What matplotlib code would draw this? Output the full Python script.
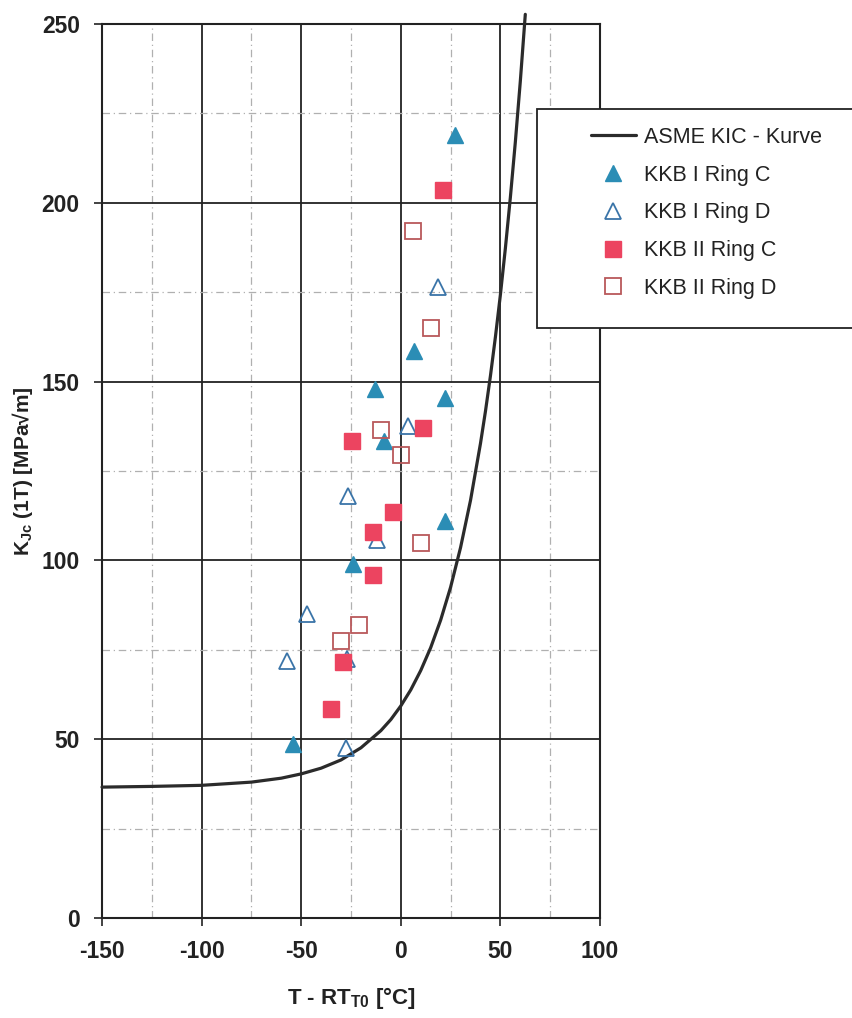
import matplotlib
matplotlib.use("Agg")
import matplotlib.pyplot as plt
from matplotlib.patches import Rectangle

plt.rcParams['font.family'] = ['Liberation Sans', 'DejaVu Sans']
plt.rcParams['mathtext.default'] = 'regular'
plt.rcParams['axes.unicode_minus'] = False

# ASME KIC reference curve
asme_x = [-150, -125, -100, -75, -60, -50, -40, -30, -20, -10, -5, 0, 5, 10, 15, 20, 25,
          30, 35, 40, 42.5, 45, 47.5, 50, 52.5, 55, 57.5, 60, 62.5]
asme_y = [36.6, 36.8, 37.1, 38.0, 39.1, 40.3, 41.9, 44.2, 47.6, 52.4, 55.5, 59.3, 63.8, 69.2,
          75.6, 83.3, 92.5, 103.6, 116.8, 132.7, 141.7, 151.6, 162.5, 174.3, 187.3, 201.5,
          217.0, 234.0, 252.7]

kkb1c_x = [27, -54, -24, -13, -8.5, 6.5, 22, 22]
kkb1c_y = [219, 48.6, 99, 148, 133.5, 158.5, 145.5, 111]

kkb1d_x = [18.5, 3.5, -26.5, -12, -47, -57, -27, -27.5]
kkb1d_y = [176.5, 137.5, 118, 105.8, 85, 72, 72.5, 47.5]

kkb2c_x = [21, -24.5, 11, -4, -14, -14, -29, -35]
kkb2c_y = [203.5, 133.5, 137, 113.5, 108, 96, 71.5, 58.5]

kkb2d_x = [6, 15, -10, 0, 10, -21, -30]
kkb2d_y = [192, 165, 136.5, 129.5, 105, 82, 77.5]

x_ticks = [-150, -100, -50, 0, 50, 100]
y_ticks = [0, 50, 100, 150, 200, 250]
x_minor = [-125, -75, -25, 25, 75]
y_minor = [25, 75, 125, 175, 225]

W, H = 852, 1018
fig = plt.figure(figsize=(W / 100, H / 100), dpi=100)
ax = fig.add_axes([102 / W, 1 - 918 / H, (600 - 102) / W, (918 - 24) / H])

ax.set_xlim(-150, 100)
ax.set_ylim(0, 250)
ax.set_xticks(x_ticks)
ax.set_yticks(y_ticks)
ax.set_xticks(x_minor, minor=True)
ax.set_yticks(y_minor, minor=True)
ax.grid(True, which='major', color='#222222', lw=1.3, zorder=1)
ax.grid(True, which='minor', color='#b0b0b0', lw=0.9, ls=(0, (6, 3, 1, 3)), zorder=1)
ax.tick_params(which='major', direction='out', length=6, width=1.2, pad=10,
               labelsize=16.5, colors='#222222')
ax.tick_params(which='minor', length=0)
for lab in ax.get_xticklabels() + ax.get_yticklabels():
    lab.set_fontweight('bold')
for s in ax.spines.values():
    s.set_color('#222222')
    s.set_linewidth(1.5)

ax.plot(asme_x, asme_y, color='#2b2b2b', lw=2.3, zorder=3, clip_on=False,
        label='ASME KIC - Kurve', solid_capstyle='round')
ax.plot(kkb1c_x, kkb1c_y, ls='none', marker='^', ms=12, color='#2b8db5',
        mec='#2b8db5', zorder=4, label='KKB I Ring C')
ax.plot(kkb1d_x, kkb1d_y, ls='none', marker='^', ms=12, mfc='none', mec='#3a74a8',
        mew=1.3, zorder=4, label='KKB I Ring D')
ax.plot(kkb2c_x, kkb2c_y, ls='none', marker='s', ms=11, color='#ec4460',
        mec='#ec4460', zorder=4, label='KKB II Ring C')
ax.plot(kkb2d_x, kkb2d_y, ls='none', marker='s', ms=11, mfc='none', mec='#b9585a',
        mew=1.3, zorder=4, label='KKB II Ring D')

ax.set_xlabel('T - RT$_{T0}$ [°C]', fontsize=16, fontweight='bold', labelpad=16,
              color='#222222')
ax.set_ylabel('K$_{Jc}$ (1T) [MPa√m]', fontsize=15, fontweight='bold', labelpad=5,
              color='#222222')

rect = Rectangle((537 / W, 1 - 328 / H), 0.5, (328 - 109) / H, transform=fig.transFigure,
                 facecolor='white', edgecolor='#222222', lw=1.3, zorder=5)
fig.add_artist(rect)
handles, labels = ax.get_legend_handles_labels()
leg = fig.legend(handles, labels, loc='upper left', bbox_to_anchor=(580 / W, 1 - 116 / H),
                 frameon=False, fontsize=15.5, borderpad=0, handlelength=2.1,
                 handletextpad=0.35, labelspacing=0.78, numpoints=1)
leg.set_zorder(6)
for t in leg.get_texts():
    t.set_color('#222222')

fig.savefig('out.png', dpi=100)
